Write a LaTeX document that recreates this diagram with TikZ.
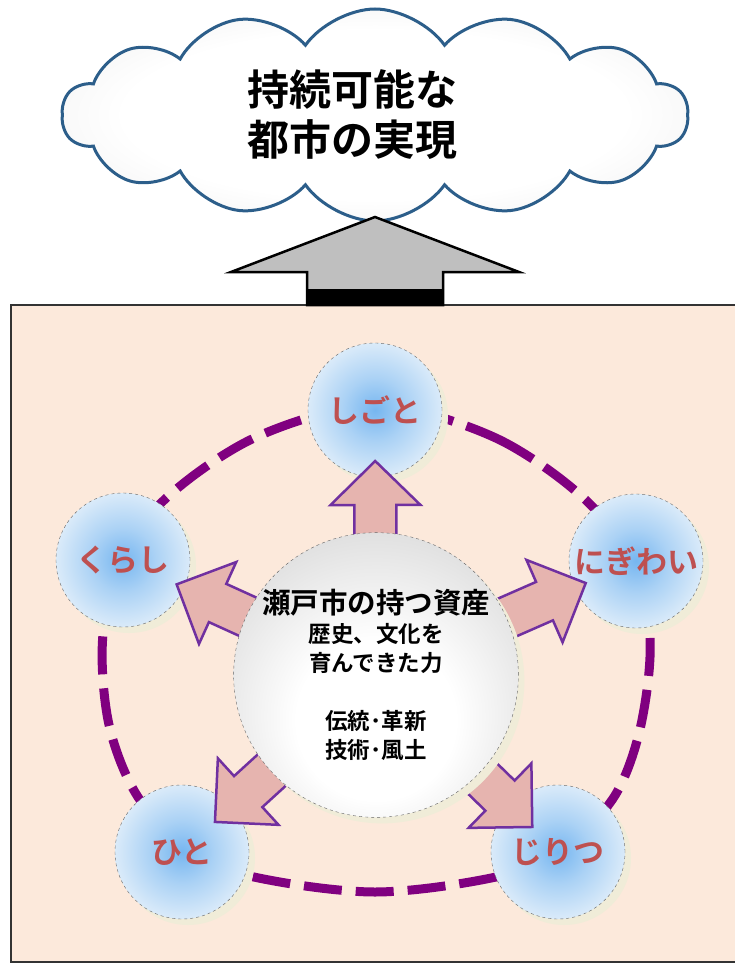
\documentclass[tikz,border=0pt]{standalone}
\usepackage{fontspec}
\newfontfamily\jp{Noto Sans CJK JP}[BoldFont={Noto Sans CJK JP Bold}]
\usetikzlibrary{calc,shapes.symbols,shadows}

\definecolor{framefill}{RGB}{252,233,219}
\definecolor{ringpurple}{RGB}{128,0,128}
\definecolor{arrfill}{RGB}{230,180,175}
\definecolor{arrdraw}{RGB}{112,48,160}
\definecolor{satblue}{RGB}{118,182,240}
\definecolor{satedge}{RGB}{236,244,251}
\definecolor{sattext}{RGB}{190,80,80}
\definecolor{cloudblue}{RGB}{44,94,138}
\definecolor{ctrgray}{RGB}{196,196,196}
\definecolor{shadowcol}{RGB}{240,236,216}

\pgfdeclareradialshading{satshade}{\pgfpoint{0bp}{0bp}}{color(0bp)=(satblue); color(12bp)=(satblue!55!satedge); color(30bp)=(satedge); color(50bp)=(satedge)}
\pgfdeclareradialshading{ctrshade}{\pgfpoint{0bp}{-10bp}}{color(0bp)=(white); color(14bp)=(white); color(46bp)=(ctrgray); color(70bp)=(ctrgray)}
\pgfdeclareradialshading{cloudshade}{\pgfpoint{0bp}{0bp}}{color(0bp)=(white); color(20bp)=(white); color(45bp)=(black!12); color(70bp)=(black!14)}

\tikzset{
  sat/.style={circle, minimum size=134pt, inner sep=0pt, shading=satshade,
    draw=black!60, dashed, thin, text=sattext,
    font=\jp\bfseries\fontsize{31}{34}\selectfont,
    drop shadow={shadow xshift=6pt, shadow yshift=-6pt, fill=shadowcol, opacity=1}},
  ctrball/.style={circle, minimum size=256pt, inner sep=0pt, shading=ctrshade,
    draw=black!60, dashed, thin, align=center,
    font=\jp\bfseries\fontsize{22.5}{29}\selectfont,
    drop shadow={shadow xshift=6pt, shadow yshift=-6pt, fill=shadowcol, opacity=1}},
  blockarr/.style={fill=arrfill, draw=arrdraw, line width=2.5pt, line join=miter},
  ring/.style={draw=ringpurple, line width=9pt, dash pattern=on 38pt off 14pt},
  goalcloud/.style={cloud, cloud puffs=14, cloud puff arc=110, cloud ignores aspect,
    minimum width=626pt, minimum height=212pt, draw=cloudblue, line width=3pt,
    shading=cloudshade},
  bigarr/.style={fill=black!25, draw=black, line width=2.5pt, line join=miter}
}

% block arrow from the centre ball to a satellite: target, head base, tip
\newcommand{\kabuarrow}[3]{%
  \draw[blockarr] ($(ctr)!95pt!(#1)!21pt!90:(#1)$) -- ($(ctr)!#2pt!(#1)!21pt!90:(#1)$)
    -- ($(ctr)!#2pt!(#1)!45pt!90:(#1)$) -- ($(ctr)!#3pt!(#1)$)
    -- ($(ctr)!#2pt!(#1)!45pt!-90:(#1)$) -- ($(ctr)!#2pt!(#1)!21pt!-90:(#1)$)
    -- ($(ctr)!95pt!(#1)!21pt!-90:(#1)$) -- cycle;}

\begin{document}
\begin{tikzpicture}[x=1pt, y=-1pt]
\useasboundingbox (0,0) rectangle (734,964);
%\draw[very thin, color = gray](0, 0) grid[step=50] (734, 964);
\draw[fill=framefill, draw=black!80, line width=2pt] (11,305) rectangle (745,962);

% dashed ring behind the satellites
\draw[ring] plot[smooth cycle] coordinates {(375,405) (500,440) (600,515) (648,620)
  (642,720) (612,800) (540,865) (375,892) (210,865) (140,800) (108,720) (105,620)
  (150,515) (250,440)};

\node (sigoto) at (375,410) [sat] {しごと};
\node (kurasi) at (123,560) [sat] {くらし};
\node (nigiwai) at (636,561) [sat] {にぎわい};
\node (hito) at (182,852) [sat] {ひと};
\node (jiritu) at (558,852) [sat] {じりつ};

\coordinate (ctr) at (376,675);
\kabuarrow{sigoto}{170}{214}
\kabuarrow{kurasi}{174}{219}
\kabuarrow{nigiwai}{184}{229}
\kabuarrow{hito}{173}{218}
\kabuarrow{jiritu}{173}{218}

\node (asset) at (ctr) [ctrball] {{\fontsize{28.5}{30}\selectfont 瀬戸市の持つ資産}\\
  歴史、文化を\\育んできた力\\[29pt]伝統･革新\\技術･風土};

% goal
\node (goal) at (375,115) [goalcloud] {};
\node (goaltext) at ($(goal)+(-23,0)$) [align=center, font=\jp\bfseries\fontsize{42}{50}\selectfont] {持続可能な\\都市の実現};
\coordinate (goaltip) at ($(goal.center)+(0,102)$);
\draw[bigarr] (goaltip) -- ++(144,55) -- ++(-76,0) -- ++(0,33) -- ++(-136,0) -- ++(0,-33) -- ++(-76,0) -- cycle;
\fill[black] ($(goaltip)+(-68,72)$) rectangle ($(goaltip)+(68,88)$);
\end{tikzpicture}
\end{document}
